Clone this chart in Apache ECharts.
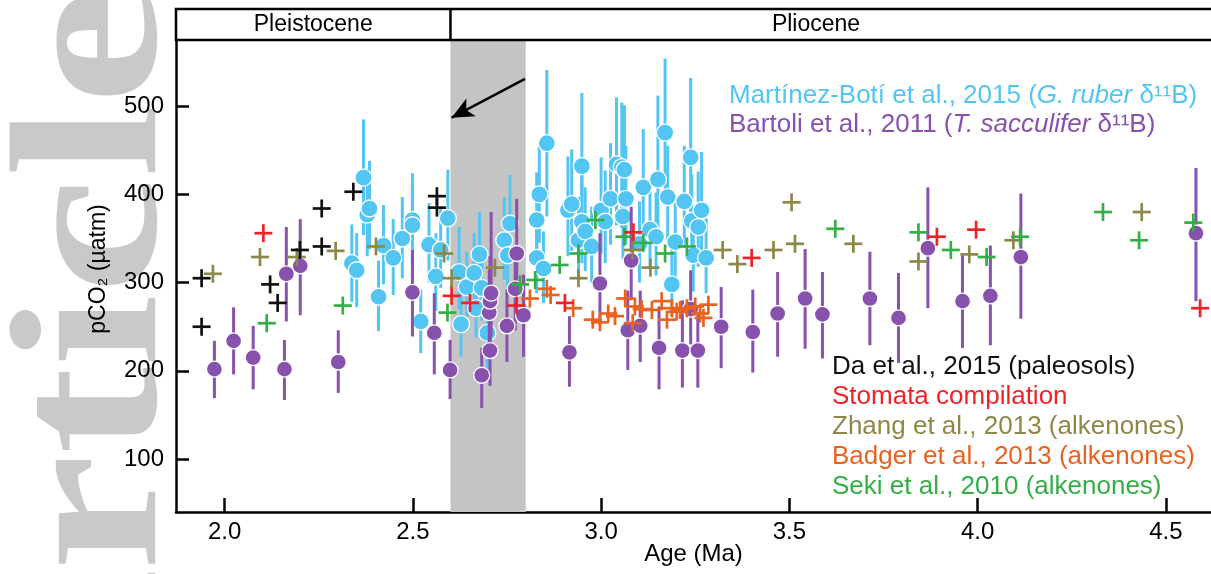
<!DOCTYPE html>
<html>
<head>
<meta charset="utf-8">
<title>Pliocene pCO2</title>
<script src="https://cdn.jsdelivr.net/npm/echarts@6.0.0/dist/echarts.min.js"></script>
<style>
html, body { margin: 0; padding: 0; background: #fff; }
#main { width: 1211px; height: 574px; }
</style>
</head>
<body>
<div id="main"></div>
<script>
var FONT = '"Liberation Sans", Arial, Helvetica, sans-serif';

// axis ticks
var xTicks = [2.0, 2.5, 3.0, 3.5, 4.0, 4.5];
var yTicks = [100, 200, 300, 400, 500];
// epoch boundary and shaded interval (Ma)
var epochBoundary = 2.6;
var shadedBand = [2.6, 2.8];
var arrowFrom = [2.798, 531];
var arrowTo = [2.603, 487];

// Martinez-Boti et al., 2015 : [age, pCO2, low, high]
var martinezBoti = [
    [2.338, 322, 278, 366], [2.351, 314, 272, 356], [2.369, 419, 354, 485],
    [2.379, 377, 330, 428], [2.385, 384, 338, 438], [2.409, 284, 245, 325],
    [2.422, 342, 298, 388], [2.448, 328, 286, 372], [2.472, 350, 305, 397],
    [2.499, 371, 322, 424], [2.499, 365, 318, 415], [2.521, 256, 220, 292],
    [2.543, 343, 300, 390], [2.561, 307, 268, 356], [2.574, 337, 294, 386],
    [2.593, 373, 325, 428], [2.623, 312, 270, 363], [2.628, 253, 216, 290],
    [2.643, 295, 258, 335], [2.663, 311, 272, 356], [2.668, 271, 238, 306],
    [2.677, 332, 290, 380], [2.683, 294, 257, 335], [2.698, 243, 201, 280],
    [2.743, 348, 303, 397], [2.752, 331, 290, 377], [2.758, 367, 320, 422],
    [2.794, 265, 232, 300], [2.829, 371, 322, 425], [2.829, 328, 288, 373],
    [2.836, 400, 345, 455], [2.847, 316, 277, 358], [2.856, 458, 375, 541],
    [2.912, 382, 330, 443], [2.922, 389, 336, 451], [2.940, 348, 303, 397],
    [2.949, 432, 362, 515], [2.949, 369, 322, 420], [2.958, 358, 313, 408],
    [2.975, 341, 300, 386], [3.000, 382, 333, 442], [3.011, 369, 322, 427],
    [3.025, 395, 343, 458], [3.041, 434, 365, 510], [3.055, 431, 362, 504],
    [3.062, 428, 360, 501], [3.066, 395, 343, 455], [3.058, 375, 327, 428],
    [3.102, 344, 300, 392], [3.112, 408, 352, 474], [3.130, 360, 315, 410],
    [3.146, 352, 308, 402], [3.151, 417, 355, 512], [3.170, 470, 388, 554],
    [3.177, 397, 345, 455], [3.188, 298, 262, 338], [3.197, 346, 302, 395],
    [3.221, 392, 340, 455], [3.238, 442, 372, 532], [3.241, 370, 323, 423],
    [3.245, 331, 290, 377], [3.258, 363, 318, 426], [3.267, 382, 333, 448],
    [3.279, 328, 288, 373]
];

// Bartoli et al., 2011 : [age, pCO2, low, high]
var bartoli = [
    [1.973, 202, 169, 234], [2.024, 234, 196, 272], [2.076, 215, 179, 251],
    [2.159, 202, 167, 235], [2.164, 310, 256, 363], [2.201, 319, 263, 372],
    [2.302, 210, 175, 246], [2.499, 289, 239, 337], [2.557, 243, 196, 288],
    [2.599, 201, 168, 235], [2.683, 195, 158, 226], [2.705, 223, 183, 263],
    [2.703, 266, 223, 314], [2.705, 279, 229, 330], [2.708, 288, 240, 380],
    [2.750, 251, 210, 292], [2.776, 333, 280, 395], [2.772, 293, 246, 336],
    [2.794, 263, 216, 309], [2.916, 221, 182, 262], [2.997, 299, 252, 356],
    [3.080, 325, 280, 386], [3.071, 246, 201, 291], [3.104, 251, 210, 291],
    [3.154, 226, 179, 273], [3.216, 223, 181, 280], [3.257, 223, 181, 267],
    [3.238, 270, 230, 314], [3.319, 250, 203, 295], [3.403, 244, 198, 292],
    [3.469, 265, 216, 312], [3.542, 282, 225, 338], [3.588, 264, 214, 312],
    [3.714, 282, 229, 335], [3.790, 260, 209, 311], [3.868, 339, 271, 408],
    [3.960, 279, 226, 331], [4.034, 285, 229, 342], [4.115, 329, 259, 401],
    [4.580, 356, 279, 430]
];

// Da et al., 2015 (paleosols)
var daPaleosols = [
    [1.939, 305], [1.939, 250], [2.121, 298], [2.141, 277], [2.200, 337],
    [2.258, 384], [2.258, 341], [2.342, 403], [2.564, 398], [2.564, 385]
];

// stomata compilation
var stomata = [
    [2.103, 356], [2.603, 285], [2.652, 277], [2.776, 274], [2.904, 277],
    [3.086, 357], [3.400, 328], [3.892, 352], [3.996, 360], [4.591, 271]
];

// Zhang et al., 2013 (alkenones)
var zhang = [
    [1.969, 310], [2.094, 329], [2.192, 329], [2.295, 336], [2.402, 341],
    [2.583, 333], [2.603, 305], [2.718, 317], [2.940, 305], [3.084, 337],
    [3.131, 317], [3.323, 337], [3.362, 321], [3.458, 337], [3.515, 344],
    [3.506, 391], [3.670, 344], [3.843, 324], [3.978, 332], [4.095, 348],
    [4.436, 380]
];

// Badger et al., 2013 (alkenones)
var badger = [
    [2.811, 282], [2.856, 293], [2.866, 286], [2.926, 271], [2.978, 258],
    [2.997, 255], [3.019, 265], [3.037, 262], [3.064, 282], [3.084, 254],
    [3.090, 273], [3.108, 270], [3.135, 269], [3.161, 279], [3.175, 258],
    [3.188, 271], [3.201, 267], [3.210, 269], [3.228, 271], [3.250, 273],
    [3.263, 265], [3.272, 260], [3.285, 275]
];

// Seki et al., 2010 (alkenones)
var seki = [
    [2.112, 254], [2.314, 274], [2.592, 266], [2.785, 298], [2.825, 303],
    [2.890, 320], [2.940, 333], [2.985, 371], [3.062, 352], [3.112, 345],
    [3.170, 333], [3.228, 341], [3.622, 361], [3.843, 357], [3.929, 337],
    [4.024, 329], [4.113, 352], [4.333, 380], [4.429, 348], [4.573, 368]
];

var CYAN = '#52C5F2';
var PURPLE = '#8751AD';
var BLACK = '#111111';
var RED = '#EE2328';
var OLIVE = '#8E8848';
var ORANGE = '#E9621F';
var GREEN = '#34AE45';

//误差棒
function errBar(color) {
    return function (params, api) {
        var x = api.value(0);
        var a = api.coord([x, api.value(2)]);
        var b = api.coord([x, api.value(3)]);
        return {
            type: 'line',
            shape: {x1: a[0], y1: a[1], x2: b[0], y2: b[1]},
            style: {stroke: color, lineWidth: 3}
        };
    };
}

//十字标记
function cross(color) {
    return function (params, api) {
        var p = api.coord([api.value(0), api.value(1)]);
        var h = 9;
        return {
            type: 'group',
            children: [
                {type: 'line', shape: {x1: p[0] - h, y1: p[1], x2: p[0] + h, y2: p[1]},
                    style: {stroke: color, lineWidth: 2.7}},
                {type: 'line', shape: {x1: p[0], y1: p[1] - h, x2: p[0], y2: p[1] + h},
                    style: {stroke: color, lineWidth: 2.7}}
            ]
        };
    };
}

function circles(data, color, size, z) {
    return {
        type: 'scatter', data: data, z: z, silent: true,
        encode: {x: 0, y: 1},
        symbol: 'circle', symbolSize: size,
        itemStyle: {color: color, borderColor: '#fff', borderWidth: 1.3, opacity: 1}
    };
}

function bars(data, color, z) {
    return {type: 'custom', data: data, z: z, silent: true, encode: {x: 0, y: [2, 3]}, renderItem: errBar(color)};
}

function crosses(data, color, z) {
    return {type: 'custom', data: data, z: z, silent: true, encode: {x: 0, y: 1}, renderItem: cross(color)};
}

var option = {
    backgroundColor: '#fff',
    animation: false,
    grid: {left: 176, right: 0, top: 40, bottom: 62, outerBoundsMode: 'none'},
    title: [
        {
            text: 'Martínez-Botí et al., 2015 ({i|G. ruber} δ¹¹B)',
            left: 729, top: 83, padding: 0,
            textStyle: {color: CYAN, fontSize: 26, fontWeight: 'normal', fontFamily: FONT,
                rich: {i: {color: CYAN, fontSize: 26, fontStyle: 'italic', fontFamily: FONT}}}
        },
        {
            text: 'Bartoli et al., 2011 ({i|T. sacculifer} δ¹¹B)',
            left: 729, top: 112, padding: 0,
            textStyle: {color: PURPLE, fontSize: 26, fontWeight: 'normal', fontFamily: FONT,
                rich: {i: {color: PURPLE, fontSize: 26, fontStyle: 'italic', fontFamily: FONT}}}
        }
    ],
    xAxis: {
        type: 'value', min: 1.871, max: 4.62,
        name: 'Age (Ma)', nameLocation: 'middle', nameGap: 30, nameMoveOverlap: false,
        nameTextStyle: {color: '#000', fontSize: 24, fontFamily: FONT},
        axisLine: {show: true, onZero: false, lineStyle: {color: '#000', width: 2.5}},
        axisTick: {show: true, inside: true, length: 14, customValues: xTicks, lineStyle: {color: '#000', width: 2.5}},
        axisLabel: {customValues: xTicks, color: '#000', fontSize: 24, fontFamily: FONT, margin: 8,
            formatter: function (v) { return v.toFixed(1); }},
        splitLine: {show: false}
    },
    yAxis: {
        type: 'value', min: 40, max: 575,
        name: 'pCO₂ (µatm)', nameLocation: 'middle', nameGap: 66, nameMoveOverlap: false,
        nameTextStyle: {color: '#000', fontSize: 23, fontFamily: FONT, padding: [0, 0, 0, 14]},
        axisLine: {show: true, onZero: false, lineStyle: {color: '#000', width: 2.5}},
        axisTick: {show: true, inside: true, length: 13, customValues: yTicks, lineStyle: {color: '#000', width: 2.5}},
        axisLabel: {customValues: yTicks, color: '#000', fontSize: 24, fontFamily: FONT, margin: 12},
        splitLine: {show: false}
    },
    series: [
        {
            type: 'line', data: [], z: 1, silent: true,
            markArea: {silent: true, itemStyle: {color: '#C4C4C4', opacity: 1},
                data: [[{xAxis: shadedBand[0]}, {xAxis: shadedBand[1]}]]}
        },
        bars(martinezBoti, CYAN, 3),
        circles(martinezBoti, CYAN, 17, 4),
        bars(bartoli, PURPLE, 5),
        circles(bartoli, PURPLE, 16, 6),
        crosses(badger, ORANGE, 7),
        crosses(zhang, OLIVE, 8),
        crosses(seki, GREEN, 9),
        crosses(stomata, RED, 10),
        crosses(daPaleosols, BLACK, 11),
        {
            type: 'line', data: [], z: 12, silent: true,
            markLine: {
                silent: true, animation: false,
                symbol: ['none', 'arrow'], symbolSize: [15, 22],
                lineStyle: {color: '#000', width: 2.5, type: 'solid'},
                label: {show: false},
                data: [[{coord: arrowFrom}, {coord: arrowTo}]]
            }
        }
    ]
};

var chart = echarts.init(document.getElementById('main'));
chart.setOption(option);

var xb = chart.convertToPixel({xAxisIndex: 0}, epochBoundary);
var legendLines = [
    ['Da et al., 2015 (paleosols)', BLACK],
    ['Stomata compilation', RED],
    ['Zhang et al., 2013 (alkenones)', OLIVE],
    ['Badger et al., 2013 (alkenones)', ORANGE],
    ['Seki et al., 2010 (alkenones)', GREEN]
];
var graphics = [
    {
        type: 'text', z: -10, silent: true,
        x: 206, y: -12, rotation: Math.PI / 2, scaleX: 1.25,
        style: {text: 'Article', fill: '#C9C9C9', fontSize: 210, fontFamily: '"Liberation Serif", "Times New Roman", serif',
            fontWeight: 'bold', align: 'right', verticalAlign: 'bottom'}
    },
    {
        type: 'rect', silent: true, z: 20,
        shape: {x: 176, y: 9, width: 1100, height: 31},
        style: {fill: 'none', stroke: '#000', lineWidth: 2.5}
    },
    {
        type: 'line', silent: true, z: 20,
        shape: {x1: xb, y1: 9, x2: xb, y2: 40},
        style: {stroke: '#000', lineWidth: 2.5}
    },
    {
        type: 'text', silent: true, z: 20, x: (176 + xb) / 2, y: 25,
        style: {text: 'Pleistocene', fill: '#000', fontSize: 23, fontFamily: FONT, align: 'center', verticalAlign: 'middle'}
    },
    {
        type: 'text', silent: true, z: 20, x: 816, y: 25,
        style: {text: 'Pliocene', fill: '#000', fontSize: 23, fontFamily: FONT, align: 'center', verticalAlign: 'middle'}
    }
];
for (var i = 0; i < legendLines.length; i++) {
    graphics.push({
        type: 'text', silent: true, z: 20, x: 832, y: 367 + i * 30,
        style: {text: legendLines[i][0], fill: legendLines[i][1], fontSize: 26, fontFamily: FONT,
            align: 'left', verticalAlign: 'middle'}
    });
}
chart.setOption({graphic: graphics});
</script>
</body>
</html>
